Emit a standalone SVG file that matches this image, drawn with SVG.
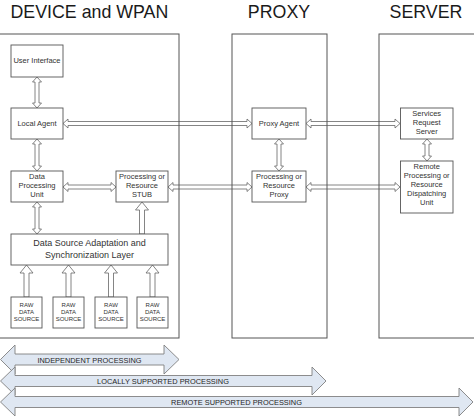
<svg xmlns="http://www.w3.org/2000/svg" width="474" height="417" viewBox="0 0 474 417">
<style>
  .bg{fill:#ffffff}
  .cont{fill:none;stroke:#555;stroke-width:1}
  .node rect{fill:#fff;stroke:#555;stroke-width:0.9}
  .lbl{font-family:"Liberation Sans",Arial,sans-serif;font-size:7.5px;fill:#333;text-anchor:middle}
  .raw{font-size:6px}
  .big{font-size:9px}
  .title{font-family:"Liberation Sans",Arial,sans-serif;font-size:17.8px;fill:#1a1a1a}
  .arr{fill:#fff;stroke:#666;stroke-width:0.8;stroke-linejoin:miter}
  .bar{fill:#dfe7f2;stroke:#808080;stroke-width:0.9}
  .barlbl{font-family:"Liberation Sans",Arial,sans-serif;font-size:7.4px;fill:#262626;text-anchor:middle}
</style>
<rect class="bg" x="0" y="0" width="474" height="417"/>

<g id="titles">
  <text class="title" x="10.5" y="18">DEVICE and WPAN</text>
  <text class="title" x="279" y="18" text-anchor="middle">PROXY</text>
  <text class="title" x="426" y="18" text-anchor="middle">SERVER</text>
</g>

<g id="connectors">
  <polygon class="arr" points="37,77 41.5,82 39,82 39,103 41.5,103 37,108 32.5,103 35,103 35,82 32.5,82"/>
  <polygon class="arr" points="37,139 41.5,144 39,144 39,166 41.5,166 37,171 32.5,166 35,166 35,144 32.5,144"/>
  <polygon class="arr" points="37,202 41.5,207 39,207 39,229 41.5,229 37,234 32.5,229 35,229 35,207 32.5,207"/>
  <polygon class="arr" points="279,139 283.5,144 281,144 281,166 283.5,166 279,171 274.5,166 277,166 277,144 274.5,144"/>
  <polygon class="arr" points="427,139 431.5,144 429,144 429,156 431.5,156 427,161 422.5,156 425,156 425,144 422.5,144"/>
  <polygon class="arr" points="63,123.5 68,119 68,121.5 247,121.5 247,119 252,123.5 247,128 247,125.5 68,125.5 68,128"/>
  <polygon class="arr" points="306,123.5 311,119 311,121.5 395,121.5 395,119 400,123.5 395,128 395,125.5 311,125.5 311,128"/>
  <polygon class="arr" points="63,187 68,182.5 68,185 111,185 111,182.5 116,187 111,191.5 111,189 68,189 68,191.5"/>
  <polygon class="arr" points="168,187 173,182.5 173,185 247,185 247,182.5 252,187 247,191.5 247,189 173,189 173,191.5"/>
  <polygon class="arr" points="306,187 311,182.5 311,185 395,185 395,182.5 400,187 395,191.5 395,189 311,189 311,191.5"/>
  <polygon class="arr" points="142,202 148.5,210 144.5,210 144.5,234 139.5,234 139.5,210 135.5,210"/>
  <polygon class="arr" points="26.5,265 33,273 29,273 29,297 24,297 24,273 20,273"/>
  <polygon class="arr" points="68.5,265 75,273 71,273 71,297 66,297 66,273 62,273"/>
  <polygon class="arr" points="111,265 117.5,273 113.5,273 113.5,297 108.5,297 108.5,273 104.5,273"/>
  <polygon class="arr" points="152.5,265 159,273 155,273 155,297 150,297 150,273 146,273"/>
</g>

<g id="containers">
  <rect id="device-wpan" class="cont" x="-1" y="34" width="180" height="304"/>
  <rect id="proxy" class="cont" x="232" y="34" width="95" height="304"/>
  <rect id="server" class="cont" x="379" y="34" width="100" height="304"/>
</g>

<g id="user-interface" class="node">
  <rect x="11" y="45" width="52" height="32"/>
  <text class="lbl" x="37" y="63">User Interface</text>
</g>
<g id="local-agent" class="node">
  <rect x="11" y="108" width="52" height="31"/>
  <text class="lbl" x="37" y="126">Local Agent</text>
</g>
<g id="data-processing-unit" class="node">
  <rect x="11" y="171" width="52" height="31"/>
  <text class="lbl" x="37" y="179.2">Data</text>
  <text class="lbl" x="37" y="188">Processing</text>
  <text class="lbl" x="37" y="196.8">Unit</text>
</g>
<g id="processing-stub" class="node">
  <rect x="116" y="171" width="52" height="31"/>
  <text class="lbl" x="142" y="179.2">Processing or</text>
  <text class="lbl" x="142" y="188">Resource</text>
  <text class="lbl" x="142" y="196.8">STUB</text>
</g>
<g id="data-source-adaptation" class="node">
  <rect x="11" y="234" width="157" height="31"/>
  <text class="lbl big" x="89.5" y="246.3">Data Source Adaptation and</text>
  <text class="lbl big" x="89.5" y="257.5">Synchronization Layer</text>
</g>
<g id="raw-1" class="node">
  <rect x="11" y="297" width="31" height="31"/>
  <text class="lbl raw" x="26.5" y="306.7">RAW</text>
  <text class="lbl raw" x="26.5" y="314">DATA</text>
  <text class="lbl raw" x="26.5" y="321.3">SOURCE</text>
</g>
<g id="raw-2" class="node">
  <rect x="53" y="297" width="31" height="31"/>
  <text class="lbl raw" x="68.5" y="306.7">RAW</text>
  <text class="lbl raw" x="68.5" y="314">DATA</text>
  <text class="lbl raw" x="68.5" y="321.3">SOURCE</text>
</g>
<g id="raw-3" class="node">
  <rect x="95" y="297" width="32" height="31"/>
  <text class="lbl raw" x="111" y="306.7">RAW</text>
  <text class="lbl raw" x="111" y="314">DATA</text>
  <text class="lbl raw" x="111" y="321.3">SOURCE</text>
</g>
<g id="raw-4" class="node">
  <rect x="137" y="297" width="31" height="31"/>
  <text class="lbl raw" x="152.5" y="306.7">RAW</text>
  <text class="lbl raw" x="152.5" y="314">DATA</text>
  <text class="lbl raw" x="152.5" y="321.3">SOURCE</text>
</g>
<g id="proxy-agent" class="node">
  <rect x="252" y="108" width="54" height="31"/>
  <text class="lbl" x="279" y="126">Proxy Agent</text>
</g>
<g id="processing-proxy" class="node">
  <rect x="252" y="171" width="54" height="31"/>
  <text class="lbl" x="279" y="179.2">Processing or</text>
  <text class="lbl" x="279" y="188">Resource</text>
  <text class="lbl" x="279" y="196.8">Proxy</text>
</g>
<g id="services-request-server" class="node">
  <rect x="400.5" y="108" width="52.5" height="31"/>
  <text class="lbl" x="426.7" y="115.8">Services</text>
  <text class="lbl" x="426.7" y="124.8">Request</text>
  <text class="lbl" x="426.7" y="133.8">Server</text>
</g>
<g id="remote-dispatching" class="node">
  <rect x="400.5" y="161" width="52.5" height="52"/>
  <text class="lbl" x="426.7" y="169">Remote</text>
  <text class="lbl" x="426.7" y="178">Processing or</text>
  <text class="lbl" x="426.7" y="187">Resource</text>
  <text class="lbl" x="426.7" y="196">Dispatching</text>
  <text class="lbl" x="426.7" y="205">Unit</text>
</g>

<g id="independent-processing">
  <polygon class="bar" points="0.5,359.5 15,345 15,354 164,354 164,345 179,359.5 164,374 164,365 15,365 15,374"/>
  <text class="barlbl" x="89.5" y="362.5">INDEPENDENT PROCESSING</text>
</g>
<g id="locally-supported-processing">
  <polygon class="bar" points="0.5,381 15,367 15,375.5 312,375.5 312,367 326,381 312,395 312,386.5 15,386.5 15,395"/>
  <text class="barlbl" x="163" y="383.8">LOCALLY SUPPORTED PROCESSING</text>
</g>
<g id="remote-supported-processing">
  <polygon class="bar" points="0.5,402 15,388 15,396.5 459,396.5 459,388 473,402 459,416 459,407.5 15,407.5 15,416"/>
  <text class="barlbl" x="236.5" y="404.5">REMOTE SUPPORTED PROCESSING</text>
</g>
</svg>
